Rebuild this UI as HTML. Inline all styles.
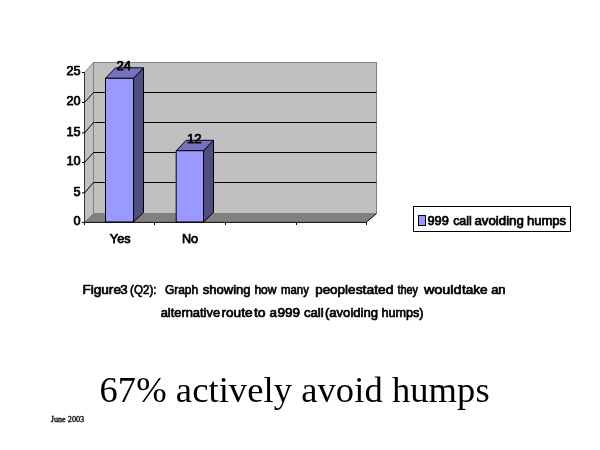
<!DOCTYPE html>
<html>
<head>
<meta charset="utf-8">
<title>67% actively avoid humps</title>
<style>
html,body{margin:0;padding:0;background:#fff;}
body{width:600px;height:450px;position:relative;overflow:hidden;font-family:"Liberation Sans",Arial,sans-serif;color:#000;}
svg{position:absolute;left:0;top:0;}
.t{position:absolute;white-space:nowrap;line-height:1;}
svg text.cap{font-size:13px;stroke-width:0.7px;}
#title{font-family:"Liberation Serif","Times New Roman",serif;font-size:36.5px;}
#date{font-family:"Liberation Serif","Times New Roman",serif;font-size:8.2px;}
svg text{font-family:"Liberation Sans",Arial,sans-serif;font-size:12.7px;fill:#000;stroke:#000;stroke-width:0.75px;stroke-linejoin:round;}
</style>
</head>
<body>
<svg width="600" height="450" viewBox="0 0 600 450">
  <!-- back wall -->
  <rect x="93.5" y="62.5" width="283" height="151" fill="#c0c0c0" stroke="#808080" stroke-width="1"/>
  <!-- side wall -->
  <polygon points="84.5,72.5 93.5,62.5 93.5,213.5 84.5,222.5" fill="#c0c0c0" stroke="#808080" stroke-width="1"/>
  <!-- floor -->
  <polygon points="84.5,222 93.5,213.5 376.5,213.5 366.5,222" fill="#808080"/>
  <!-- gridlines -->
  <g stroke="#000" stroke-width="1" fill="none">
    <polyline points="84.5,102.5 93.5,92.5 376.5,92.5"/>
    <polyline points="84.5,133 93.5,122.5 376.5,122.5"/>
    <polyline points="84.5,162.5 93.5,152.5 376.5,152.5"/>
    <polyline points="84.5,193 93.5,182.5 376.5,182.5"/>
  </g>
  <!-- bars -->
  <g stroke="#000" stroke-width="1" stroke-linejoin="round">
    <polygon points="133.5,78.3 143.5,67.8 143.5,212.5 133.5,222" fill="#4d4d80"/>
    <polygon points="105.5,78.3 115.5,67.8 143.5,67.8 133.5,78.3" fill="#7373bf"/>
    <rect x="105.5" y="78.3" width="28" height="143.7" fill="#9999ff"/>
    <polygon points="203.5,150.7 213.5,140.3 213.5,212.5 203.5,222" fill="#4d4d80"/>
    <polygon points="176.2,150.7 186.2,140.3 213.5,140.3 203.5,150.7" fill="#7373bf"/>
    <rect x="176.2" y="150.7" width="27.3" height="71.3" fill="#9999ff"/>
  </g>
  <!-- axes -->
  <g stroke="#000" stroke-width="1" fill="none">
    <line x1="84.5" y1="72" x2="84.5" y2="222.5" stroke-width="0.6"/>
    <line x1="82" y1="72.5" x2="84.5" y2="72.5"/>
    <line x1="82" y1="102.5" x2="84.5" y2="102.5"/>
    <line x1="82" y1="132.9" x2="84.5" y2="132.9"/>
    <line x1="82" y1="162.5" x2="84.5" y2="162.5"/>
    <line x1="82" y1="192.9" x2="84.5" y2="192.9"/>
    <line x1="82" y1="222.4" x2="367" y2="222.4"/>
    <line x1="366.5" y1="222" x2="376.5" y2="213.5"/>
    <line x1="84.5" y1="222" x2="84.5" y2="225"/>
    <line x1="154.5" y1="222" x2="154.5" y2="225"/>
    <line x1="225.5" y1="222" x2="225.5" y2="225"/>
    <line x1="296.5" y1="222" x2="296.5" y2="225"/>
    <line x1="366.5" y1="222" x2="366.5" y2="225"/>
  </g>
  <!-- value axis labels -->
  <g text-anchor="end" style="font-size:13.2px">
    <text x="80.5" y="75">25</text>
    <text x="80.5" y="105">20</text>
    <text x="80.5" y="135.6">15</text>
    <text x="80.5" y="165">10</text>
    <text x="80.5" y="195.6">5</text>
    <text x="80.5" y="225">0</text>
  </g>
  <g text-anchor="middle">
    <text x="123.8" y="70" style="font-size:13.2px">24</text>
    <text x="194.3" y="143.3" style="font-size:13.2px">12</text>
    <text x="120.2" y="243">Yes</text>
    <text x="190" y="243">No</text>
  </g>
  <!-- legend -->
  <rect x="413.5" y="206.5" width="157" height="25" fill="#fff" stroke="#000" stroke-width="1"/>
  <rect x="418.5" y="215.5" width="7" height="10" fill="#9999ff" stroke="#000" stroke-width="1"/>
  <text id="leg" y="225.4" style="font-size:13.2px"><tspan x="427.40" textLength="21.45" lengthAdjust="spacingAndGlyphs">999</tspan> <tspan x="453.15" textLength="18.70" lengthAdjust="spacingAndGlyphs">call</tspan> <tspan x="474.40" textLength="49.45" lengthAdjust="spacingAndGlyphs">avoiding</tspan> <tspan x="526.90" textLength="39.20" lengthAdjust="spacingAndGlyphs">humps</tspan></text>
  <text id="cap1" y="294.2" class="cap"><tspan x="82.40" textLength="38.60" lengthAdjust="spacingAndGlyphs">Figure</tspan> <tspan x="120.20" textLength="7.40" lengthAdjust="spacingAndGlyphs">3</tspan> <tspan x="130.10" textLength="26.50" lengthAdjust="spacingAndGlyphs">(Q2):</tspan> <tspan x="164.90" textLength="33.20" lengthAdjust="spacingAndGlyphs">Graph</tspan> <tspan x="202.70" textLength="47.90" lengthAdjust="spacingAndGlyphs">showing</tspan> <tspan x="254.40" textLength="22.20" lengthAdjust="spacingAndGlyphs">how</tspan> <tspan x="281.10" textLength="27.75" lengthAdjust="spacingAndGlyphs">many</tspan> <tspan x="315.15" textLength="40.45" lengthAdjust="spacingAndGlyphs">people</tspan> <tspan x="355.65" textLength="37.95" lengthAdjust="spacingAndGlyphs">stated</tspan> <tspan x="397.40" textLength="20.70" lengthAdjust="spacingAndGlyphs">they</tspan> <tspan x="423.90" textLength="37.70" lengthAdjust="spacingAndGlyphs">would</tspan> <tspan x="461.90" textLength="25.70" lengthAdjust="spacingAndGlyphs">take</tspan> <tspan x="491.15" textLength="14.45" lengthAdjust="spacingAndGlyphs">an</tspan></text>
  <text id="cap2" y="317" class="cap"><tspan x="160.65" textLength="59.45" lengthAdjust="spacingAndGlyphs">alternative</tspan> <tspan x="221.40" textLength="31.20" lengthAdjust="spacingAndGlyphs">route</tspan> <tspan x="253.90" textLength="11.70" lengthAdjust="spacingAndGlyphs">to</tspan> <tspan x="269.40" textLength="7.45" lengthAdjust="spacingAndGlyphs">a</tspan> <tspan x="277.40" textLength="22.70" lengthAdjust="spacingAndGlyphs">999</tspan> <tspan x="303.90" textLength="19.70" lengthAdjust="spacingAndGlyphs">call</tspan> <tspan x="324.90" textLength="53.20" lengthAdjust="spacingAndGlyphs">(avoiding</tspan> <tspan x="381.40" textLength="42.20" lengthAdjust="spacingAndGlyphs">humps)</tspan></text>
</svg>
<div class="t" id="title" style="left:99.5px;top:371.5px;letter-spacing:0.08px;">67% actively avoid humps</div>
<div class="t" id="date" style="left:50.75px;top:415.8px;-webkit-text-stroke:0.3px #000;">June 2003</div>
</body>
</html>
